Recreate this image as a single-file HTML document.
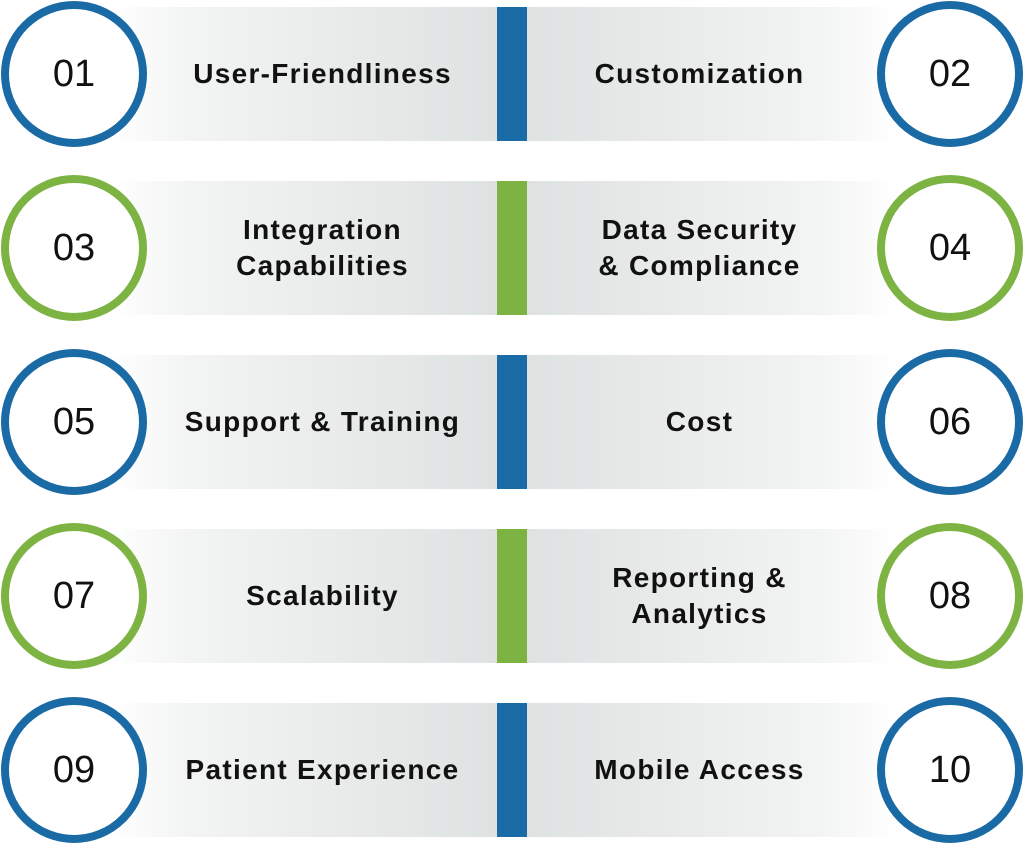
<!DOCTYPE html>
<html><head><meta charset="utf-8"><style>
html,body{margin:0;padding:0;background:#fff}
body{width:1024px;height:844px;position:relative;overflow:hidden;font-family:"Liberation Sans",sans-serif}
.band{position:absolute;height:134px}
.l{left:110px;width:387px;background:linear-gradient(to right,#fff 0%,#f3f4f4 20%,#dfe2e2 100%)}
.r{left:527px;width:370px;background:linear-gradient(to right,#dfe2e2 0%,#f3f4f4 80%,#fff 100%)}
.bar{position:absolute;left:497px;width:30px;height:134px}
.c{position:absolute;width:130px;height:130px;border-radius:50%;border:8px solid;background:#fff;display:flex;align-items:center;justify-content:center;font-size:38px;color:#111}
.t{position:absolute;height:134px;display:flex;align-items:center;justify-content:center;text-align:center;font-size:28px;font-weight:bold;color:#111;line-height:36px;letter-spacing:1.3px;white-space:nowrap}
.tl{left:150px;width:345px}
.tr{left:527px;width:345px}
</style></head><body>
<div class="band l" style="top:7px"></div><div class="band r" style="top:7px"></div>
<div class="bar" style="top:7px;background:#1a6aa5"></div>
<div class="c" style="left:1px;top:1px;border-color:#1a6aa5">01</div>
<div class="c" style="left:877px;top:1px;border-color:#1a6aa5">02</div>
<div class="t tl" style="top:7px">User-Friendliness</div>
<div class="t tr" style="top:7px">Customization</div>

<div class="band l" style="top:181px"></div><div class="band r" style="top:181px"></div>
<div class="bar" style="top:181px;background:#7db342"></div>
<div class="c" style="left:1px;top:175px;border-color:#7db342">03</div>
<div class="c" style="left:877px;top:175px;border-color:#7db342">04</div>
<div class="t tl" style="top:181px">Integration<br>Capabilities</div>
<div class="t tr" style="top:181px">Data Security<br>&amp; Compliance</div>

<div class="band l" style="top:355px"></div><div class="band r" style="top:355px"></div>
<div class="bar" style="top:355px;background:#1a6aa5"></div>
<div class="c" style="left:1px;top:349px;border-color:#1a6aa5">05</div>
<div class="c" style="left:877px;top:349px;border-color:#1a6aa5">06</div>
<div class="t tl" style="top:355px">Support &amp; Training</div>
<div class="t tr" style="top:355px">Cost</div>

<div class="band l" style="top:529px"></div><div class="band r" style="top:529px"></div>
<div class="bar" style="top:529px;background:#7db342"></div>
<div class="c" style="left:1px;top:523px;border-color:#7db342">07</div>
<div class="c" style="left:877px;top:523px;border-color:#7db342">08</div>
<div class="t tl" style="top:529px">Scalability</div>
<div class="t tr" style="top:529px">Reporting &amp;<br>Analytics</div>

<div class="band l" style="top:703px"></div><div class="band r" style="top:703px"></div>
<div class="bar" style="top:703px;background:#1a6aa5"></div>
<div class="c" style="left:1px;top:697px;border-color:#1a6aa5">09</div>
<div class="c" style="left:877px;top:697px;border-color:#1a6aa5">10</div>
<div class="t tl" style="top:703px">Patient Experience</div>
<div class="t tr" style="top:703px">Mobile Access</div>
</body></html>
